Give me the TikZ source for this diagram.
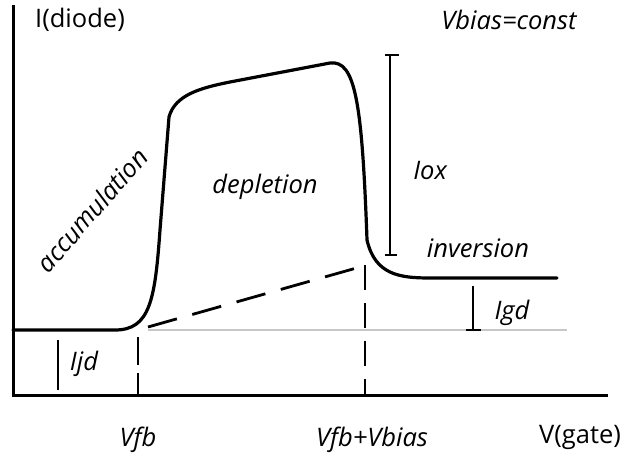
\documentclass[tikz,border=0pt]{standalone}
\usepackage{fontspec}
\setmainfont{Open Sans}
\begin{document}
\begin{tikzpicture}[x=1pt,y=-1pt,
  axis/.style={line width=3pt},
  curve/.style={line width=3.2pt,line cap=round,line join=round},
  bar/.style={line width=2.8pt},
  lbl/.style={font=\fontsize{25.5}{28}\selectfont\itshape,inner sep=0pt},
  albl/.style={font=\fontsize{25.5}{28}\selectfont,inner sep=0pt}]
\useasboundingbox (0,0) rectangle (628,470);
% axes
\coordinate (ytop) at (13,5);
\coordinate (orig) at (13,395);
\coordinate (xend) at (608,395);
\draw[axis] (ytop) -- (orig) -- (xend);
% grey baseline
\coordinate (g1) at (148,330);
\coordinate (g2) at (567,330);
\draw[line width=2.6pt,black!22] (g1) -- (g2);
% main curve
\coordinate (c0) at (13,330);
\coordinate (c1) at (115,330);
\coordinate (c2) at (169,117);
\coordinate (c3) at (330,63);
\coordinate (c4) at (367,240);
\coordinate (c5) at (557,278);
\draw[curve] (c0) -- (c1) .. controls (150,330) and (155,300) .. (160,230)
  -- (c2) .. controls (175,95) and (200,88) .. (230,82) -- (c3)
  .. controls (355,60) and (362,100) .. (c4)
  .. controls (375,275) and (400,278) .. (430,278) -- (c5);
% dashed lines
\coordinate (d1) at (148,327);
\coordinate (d2) at (360,267);
\draw[line width=2.8pt,dash pattern=on 30pt off 16pt] (d1) -- (d2);
\coordinate (v1t) at (138,337);
\coordinate (v1b) at (138,395);
\draw[line width=2.8pt,dash pattern=on 28pt off 8pt] (v1t) -- (v1b);
\coordinate (v2t) at (365,265);
\coordinate (v2b) at (365,395);
\draw[line width=2.8pt,dash pattern=on 25pt off 13pt] (v2t) -- (v2b);
% bars
\coordinate (ij1) at (58,340);
\coordinate (ij2) at (58,390);
\draw[bar] (ij1) -- (ij2);
\coordinate (ig1) at (473,286);
\coordinate (ig2) at (473,330);
\draw[bar] (ig1) -- (ig2);
\draw[bar] (466,330) -- (481,330);
\coordinate (io1) at (390,55);
\coordinate (io2) at (390,255);
\draw[bar] (io1) -- (io2);
\draw[bar] (385,55) -- (399,55);
\draw[bar] (385,255) -- (397,255);
% labels
\node[albl] (idiode) at (80,20) {I(diode)};
\node[lbl] (vbias) at (509,20) {Vbias=const};
\node[lbl] (iox) at (430,170) {Iox};
\node[lbl] (inv) at (478,248) {inversion};
\node[lbl] (dep) at (265,187) {depletion};
\node[lbl,rotate=49] (acc) at (92,210) {accumulation};
\node[lbl] (ijd) at (84,364) {Ijd};
\node[lbl] (igd) at (512,313) {Igd};
\node[lbl] (vfb) at (138,440) {Vfb};
\node[lbl] (vfbb) at (372,440) {Vfb+Vbias};
\node[albl] (vgate) at (580,437) {V(gate)};
\end{tikzpicture}
\end{document}
